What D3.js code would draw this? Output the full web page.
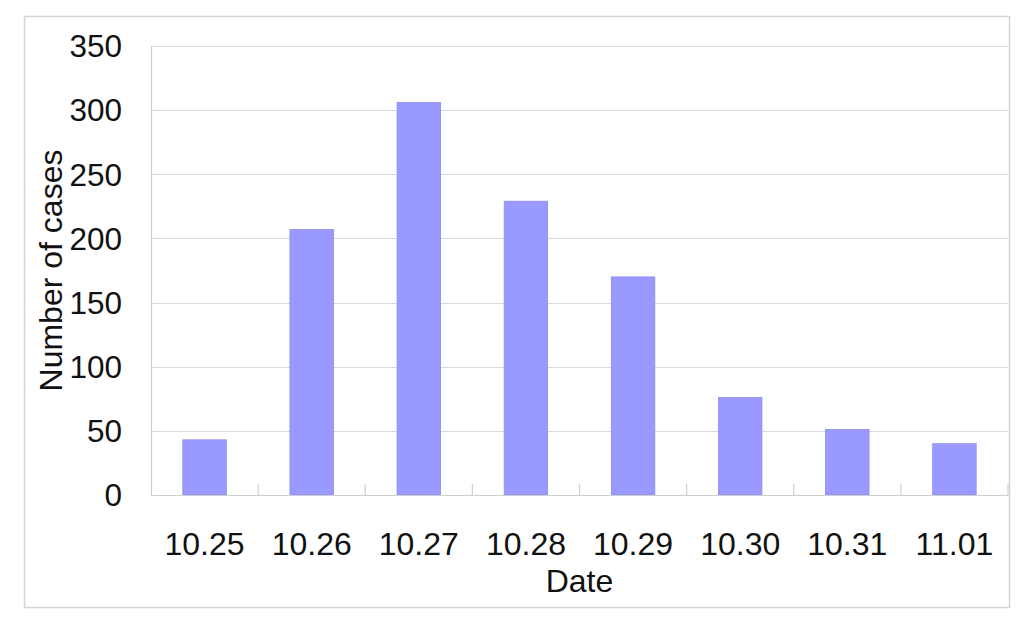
<!DOCTYPE html>
<html>
<head>
<meta charset="utf-8">
<script src="https://cdn.jsdelivr.net/npm/d3@7"></script>
<style>
  html, body { margin: 0; padding: 0; background: #fff; }
  svg { display: block; font-family: "Liberation Sans", Arial, sans-serif; }
</style>
</head>
<body>
<svg id="chart" width="1024" height="630"></svg>
<script>
// data
const dates = ['10.25', '10.26', '10.27', '10.28', '10.29', '10.30', '10.31', '11.01'];
const cases = [43, 207, 306, 229, 170, 76, 51, 40];
const yTicks = [0, 50, 100, 150, 200, 250, 300, 350];

const W = 1024, H = 630;
const margin = {left: 151, right: 16, top: 46, bottom: 135};
const svg = d3.select('#chart');

// outer frame
svg.append('rect').attr('x', 24.5).attr('y', 16.5).attr('width', 985).attr('height', 591)
  .attr('fill', '#fff').attr('stroke', '#d4d4d4').attr('stroke-width', 1.5);

const x = d3.scaleBand().domain(dates).range([margin.left, W - margin.right]).paddingInner(0.594).paddingOuter(0.297);
const xb = d3.scaleBand().domain(dates).range([margin.left, W - margin.right]).padding(0);
const y = d3.scaleLinear().domain([0, 350]).range([H - margin.bottom, margin.top]);

// gridlines
svg.append('g').selectAll('line').data(yTicks.filter(d => d > 0)).enter().append('line')
  .attr('x1', margin.left).attr('x2', W - margin.right)
  .attr('y1', d => Math.round(y(d)) + 0.5).attr('y2', d => Math.round(y(d)) + 0.5)
  .attr('stroke', '#d9d9d9').attr('stroke-width', 1.2);

// bars
svg.append('g').selectAll('rect').data(cases).enter().append('rect')
  .attr('x', (d, i) => x(dates[i]))
  .attr('width', x.bandwidth())
  .attr('y', d => y(d))
  .attr('height', d => y(0) - y(d))
  .attr('fill', '#9999ff').attr('stroke', '#8c8cf0').attr('stroke-width', 0.8);

// axes lines
svg.append('line').attr('x1', margin.left + 0.5).attr('x2', margin.left + 0.5)
  .attr('y1', y(350)).attr('y2', y(0)).attr('stroke', '#cfcfcf').attr('stroke-width', 1.2);
svg.append('line').attr('x1', margin.left).attr('x2', W - margin.right)
  .attr('y1', y(0) + 0.5).attr('y2', y(0) + 0.5).attr('stroke', '#cfcfcf').attr('stroke-width', 1.2);

// category boundary ticks (upward)
svg.append('g').selectAll('line').data(dates.slice(1).concat(['end'])).enter().append('line')
  .attr('x1', (d, i) => xb(dates[i]) + xb.bandwidth())
  .attr('x2', (d, i) => xb(dates[i]) + xb.bandwidth())
  .attr('y1', y(0) - 11).attr('y2', y(0))
  .attr('stroke', '#cfcfcf').attr('stroke-width', 1.2);

// y tick labels
svg.append('g').selectAll('text').data(yTicks).enter().append('text')
  .attr('x', 122).attr('y', d => y(d)).attr('dy', '0.36em')
  .attr('text-anchor', 'end').attr('font-size', 31.5).attr('fill', '#111')
  .text(d => d);

// x tick labels
svg.append('g').selectAll('text').data(dates).enter().append('text')
  .attr('x', d => xb(d) + xb.bandwidth() / 2).attr('y', 555)
  .attr('text-anchor', 'middle').attr('font-size', 32).attr('fill', '#111')
  .text(d => d);

// axis titles
svg.append('text').attr('x', (margin.left + W - margin.right) / 2).attr('y', 592)
  .attr('text-anchor', 'middle').attr('font-size', 32).attr('fill', '#111').text('Date');
svg.append('text').attr('transform', 'translate(62,270.5) rotate(-90)')
  .attr('text-anchor', 'middle').attr('font-size', 32).attr('fill', '#111').text('Number of cases');
</script>
</body>
</html>
